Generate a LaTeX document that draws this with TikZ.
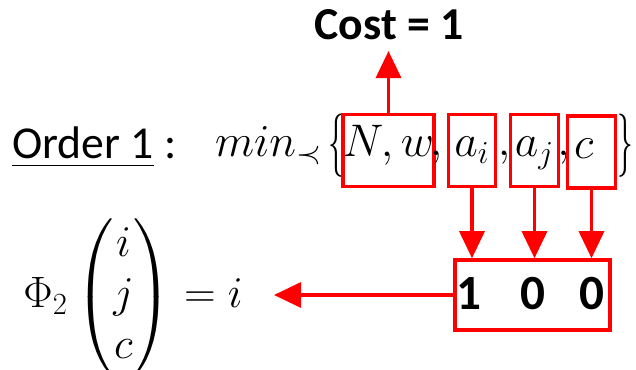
\documentclass[tikz,border=0pt]{standalone}
\usepackage{fix-cm}
\usepackage{amsmath}
\usepackage[no-math]{fontspec}
\setmainfont{Carlito}
\usetikzlibrary{arrows.meta}
\definecolor{boxred}{RGB}{255,0,0}

\begin{document}
\begin{tikzpicture}[
  redbox/.style={draw=boxred, line width=2pt, minimum height=1.44cm, inner sep=0pt},
  redarrow/.style={draw=boxred, line width=1.9pt, -{Triangle[width=0.5cm,length=0.54cm]}},
  mathtxt/.style={font=\fontsize{26}{31}\selectfont, inner sep=0pt},
  brace/.style={font=\fontsize{36}{42}\selectfont, inner sep=0pt},
  digit/.style={font=\fontsize{28}{34}\selectfont\bfseries, inner sep=0pt}
]
\useasboundingbox (0,0) rectangle (12.72,7.4);

\node[font=\fontsize{26}{31}\selectfont\bfseries, inner sep=6pt] (cost) at (7.78,6.9) {Cost = 1};

\node[anchor=base west, inner sep=0pt, font=\fontsize{26}{31}\selectfont] (order) at (0.24,4.22) {\underline{Order 1} :};
\node[mathtxt, anchor=base] (minop) at (5.37,4.26) {$min_{\prec}$};
\node[brace] (lbr) at (6.73,4.49) {\scalebox{0.5}[1]{$\{$}};
\node[redbox, mathtxt, minimum width=1.62cm, text height=15pt, text depth=8pt] (nw) at (7.77,4.39) {$N,w$};
\node[mathtxt, anchor=base] (cm1) at (8.72,4.28) {$,$};
\node[redbox, mathtxt, minimum width=0.94cm, text height=15pt, text depth=8pt] (ai) at (9.44,4.39) {$a_i$};
\node[mathtxt, anchor=base] (cm2) at (10.08,4.28) {$,$};
\node[redbox, mathtxt, minimum width=0.96cm, text height=15pt, text depth=8pt] (aj) at (10.69,4.39) {$a_j$};
\node[mathtxt, anchor=base] (cm3) at (11.27,4.28) {$,$};
\node[redbox, mathtxt, minimum width=0.96cm, text height=15pt, text depth=8pt] (cc) at (11.83,4.36) {$c\hphantom{{}_j}$};
\node[brace] (rbr) at (12.5,4.49) {\scalebox{0.5}[1]{$\}$}};

\node[redbox, minimum width=3.1cm, minimum height=1.4cm] (res) at (10.65,1.5) {};
\node[digit] (d1) at (9.38,1.53) {1};
\node[digit] (d2) at (10.66,1.53) {0};
\node[digit] (d3) at (11.84,1.53) {0};

\node[font=\fontsize{25}{29}\selectfont, inner sep=0pt] (phi) at (2.66,1.46) {$\Phi_2\begin{pmatrix} i\\ j\\ c\end{pmatrix} = i$};
\coordinate (eqtip) at (5.48,1.5);

\draw[redarrow] (nw.north) -- (nw.north |- cost.south);
\foreach \b in {ai,aj,cc}
  \draw[redarrow] (\b.south) -- (\b.south |- res.north);
\draw[redarrow] (res.west) -- (eqtip);
\end{tikzpicture}
\end{document}
